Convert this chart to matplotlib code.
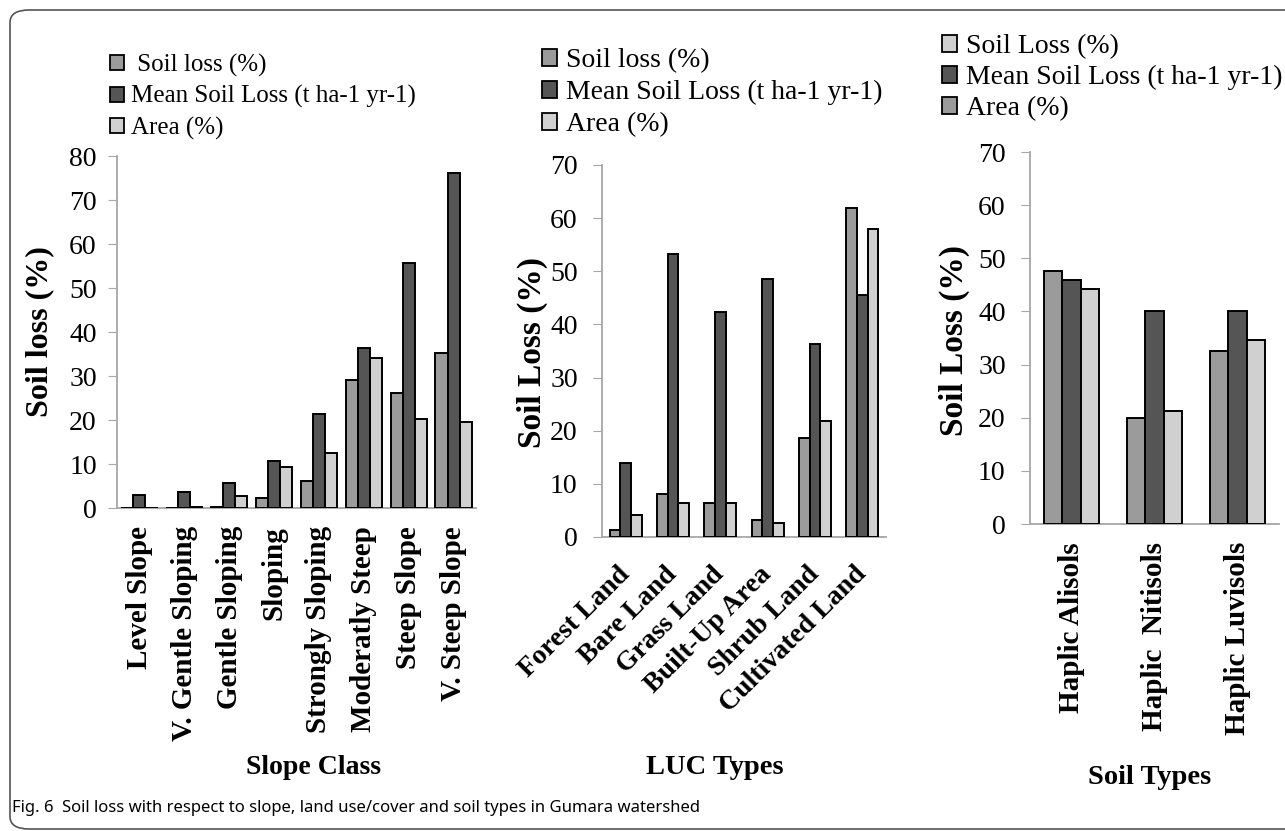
import matplotlib.pyplot as plt
import numpy as np
from matplotlib.patches import Patch, FancyBboxPatch

plt.rcParams['font.family'] = ['Liberation Serif', 'DejaVu Serif']

W, H = 1285, 831

series = ['Soil loss (%)', 'Mean Soil Loss (t ha-1 yr-1)', 'Area (%)']
c_soil = '#9b9b9b'
c_mean = '#555555'
c_area = '#d0d0d0'

slope_classes = ['Level Slope', 'V. Gentle Sloping', 'Gentle Sloping', 'Sloping',
                 'Strongly Sloping', 'Moderatly Steep', 'Steep Slope', 'V. Steep Slope']
slope_soil = [0.1, 0.1, 0.3, 2.2, 6.2, 29.1, 26.2, 35.2]
slope_mean = [3.0, 3.6, 5.6, 10.7, 21.4, 36.3, 55.6, 76.1]
slope_area = [0.0, 0.3, 2.8, 9.3, 12.5, 34.0, 20.2, 19.6]

luc_types = ['Forest Land', 'Bare Land', 'Grass Land', 'Built-Up Area', 'Shrub Land', 'Cultivated Land']
luc_soil = [1.3, 8.0, 6.4, 3.2, 18.7, 62.0]
luc_mean = [14.0, 53.3, 42.4, 48.6, 36.4, 45.6]
luc_area = [4.1, 6.4, 6.4, 2.7, 21.9, 58.0]

soil_types = ['Haplic Alisols', 'Haplic  Nitisols', 'Haplic Luvisols']
st_soil = [47.6, 19.9, 32.6]
st_mean = [46.0, 40.0, 40.1]
st_area = [44.2, 21.2, 34.7]


def px_axes(fig, x0, y0, x1, y1):
    # pixel box (top-left origin) -> axes
    return fig.add_axes([x0 / W, 1 - y1 / H, (x1 - x0) / W, (y1 - y0) / H])


def style(ax, ymax, xpad, ypad):
    for s in ['top', 'right']:
        ax.spines[s].set_visible(False)
    for s in ['left', 'bottom']:
        ax.spines[s].set_color('#a6a6a6')
        ax.spines[s].set_linewidth(1.3)
    ax.set_ylim(0, ymax)
    ax.set_yticks(np.arange(0, ymax + 1, 10))
    ax.tick_params(axis='y', length=6.5, color='#a6a6a6', labelsize=20, pad=ypad)
    ax.tick_params(axis='x', length=0, pad=xpad)


def bars(ax, a, b, c, w):
    x = np.arange(len(a))
    kw = dict(edgecolor='black', linewidth=1.4, zorder=3)
    ax.bar(x - w, a, w, color=c_soil, **kw)
    ax.bar(x, b, w, color=c_mean, **kw)
    ax.bar(x + w, c, w, color=c_area, **kw)
    ax.set_xlim(-0.5, len(a) - 0.5)
    ax.set_xticks(x)


fig = plt.figure(figsize=(W / 100, H / 100), dpi=100)

# frame
frame = FancyBboxPatch((10 / W, 1 - 829 / H), 1400 / W, 819 / H,
                       boxstyle='round,pad=0,rounding_size=0.015',
                       transform=fig.transFigure, facecolor='none',
                       edgecolor='#555555', linewidth=1.2)
fig.patches.append(frame)

# slope class
ax1 = px_axes(fig, 117, 156, 476, 508)
bars(ax1, slope_soil, slope_mean, slope_area, 0.27)
style(ax1, 80, 13, 8)
ax1.set_xticklabels(slope_classes, rotation=90, fontsize=21, fontweight='bold',
                    ha='center', va='top')

# land use / cover
ax2 = px_axes(fig, 602, 165, 886, 537)
bars(ax2, luc_soil, luc_mean, luc_area, 0.225)
style(ax2, 70, 24, 11)
ax2.set_xticklabels(luc_types, rotation=45, fontsize=20, fontweight='bold',
                    ha='right', va='center', rotation_mode='anchor')

# soil types
ax3 = px_axes(fig, 1030, 152, 1279, 524)
bars(ax3, st_soil, st_mean, st_area, 0.222)
style(ax3, 70, 13, 11)
ax3.set_xticklabels(soil_types, rotation=90, fontsize=21, fontweight='bold',
                    ha='center', va='top')

# axis titles
def ftext(x, y, s, **kw):
    fig.text(x / W, 1 - y / H, s, **kw)

ftext(40, 332, 'Soil loss (%)', rotation=90, fontsize=23, fontweight='bold', ha='center', va='center')
ftext(532, 352, 'Soil Loss (%)', rotation=90, fontsize=24, fontweight='bold', ha='center', va='center')
ftext(954, 340, 'Soil Loss (%)', rotation=90, fontsize=24, fontweight='bold', ha='center', va='center')
ftext(313, 768, 'Slope Class', fontsize=20, fontweight='bold', ha='center', va='center')
ftext(715, 768, 'LUC Types', fontsize=20.5, fontweight='bold', ha='center', va='center')
ftext(1150, 777, 'Soil Types', fontsize=20.5, fontweight='bold', ha='center', va='center')

# legends
def legend(x, y, labels, colors, size, spacing):
    handles = [Patch(facecolor=c, edgecolor='black', linewidth=1.3) for c in colors]
    fig.legend(handles, labels, loc='upper left', bbox_to_anchor=(x / W, 1 - y / H),
               bbox_transform=fig.transFigure, frameon=False, fontsize=size,
               handlelength=0.55, handleheight=0.55, handletextpad=0.3,
               labelspacing=spacing, borderpad=0, borderaxespad=0)

legend(110, 54, [' ' + series[0], series[1], series[2]], [c_soil, c_mean, c_area], 18, 0.33)
legend(542, 48, series, [c_soil, c_mean, c_area], 20, 0.25)
legend(942, 34, ['Soil Loss (%)', series[1], series[2]], [c_area, c_mean, c_soil], 20, 0.22)

# caption
fig.text(12 / W, 1 - 808 / H, 'Fig. 6', fontsize=12, fontweight='bold',
         family=['Noto Sans', 'DejaVu Sans'], ha='left', va='center')
fig.text(62 / W, 1 - 808 / H, 'Soil loss with respect to slope, land use/cover and soil types in Gumara watershed',
         fontsize=12, family=['Noto Sans', 'DejaVu Sans'], ha='left', va='center')

fig.savefig('out.png', dpi=100)
